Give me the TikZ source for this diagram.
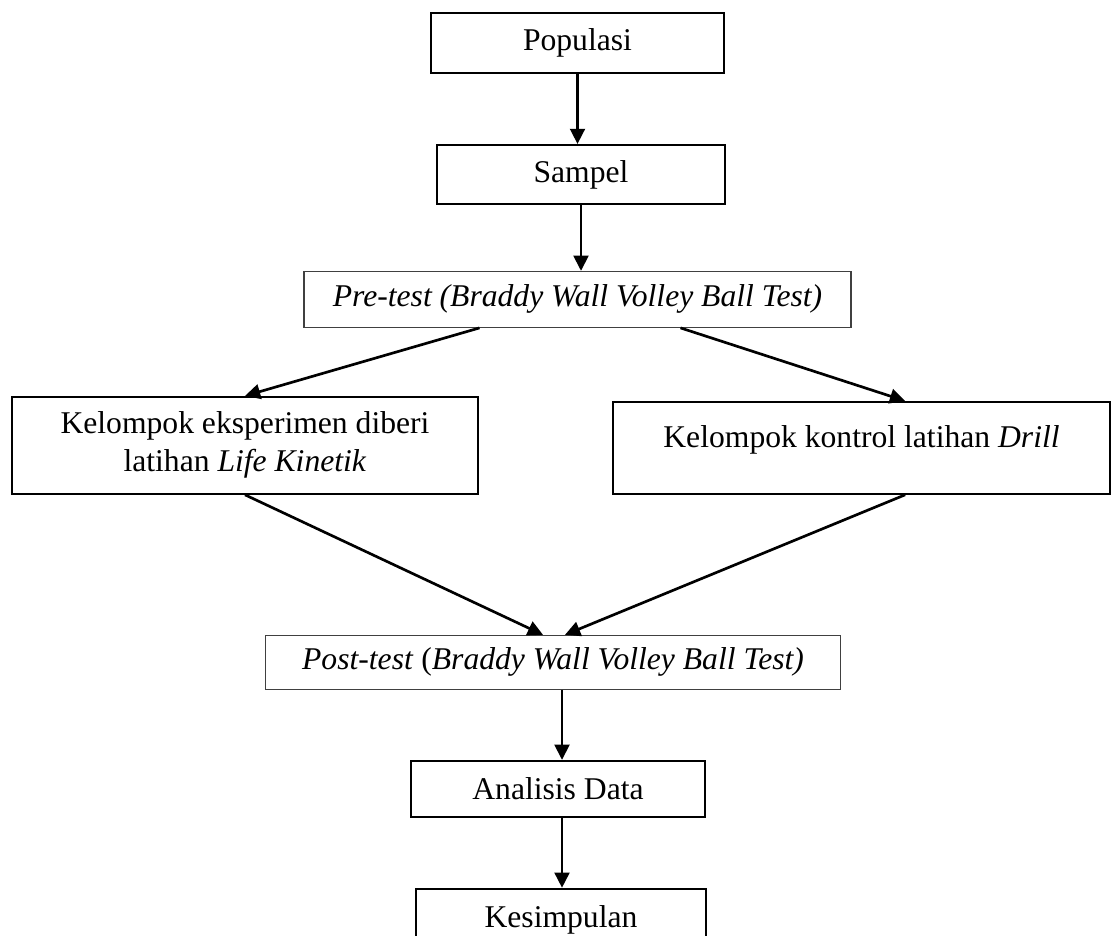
\documentclass[tikz,border=0pt]{standalone}
\usepackage{fontspec}
\setmainfont{Liberation Serif}
\usepackage{tikz}
\usetikzlibrary{arrows.meta,positioning,calc}

\begin{document}
\begin{tikzpicture}[every node/.style={font=\fontsize{22.5pt}{27pt}\selectfont,align=center},box/.style={draw,line width=1.35pt,minimum height=1.45cm,inner sep=0pt},testbox/.style={draw=black!75,line width=0.75pt,minimum height=1.4cm,inner sep=0pt},arr/.style={-{Triangle[length=0.38cm,width=0.37cm]},line width=1.9pt}]
\useasboundingbox (0,0) rectangle (27.925,-23.375);
\node[box,minimum width=7.325cm,minimum height=1.5cm] (pop) at (14.4375,-1.075) {Populasi};
\node[box,minimum width=7.2cm,minimum height=1.475cm,below=1.75cm of pop,xshift=0.0875cm] (samp) {Sampel};
\node[testbox,minimum width=13.675cm,below=1.65cm of samp,xshift=-0.0875cm] (pre) {\textit{Pre-test (Braddy Wall Volley Ball Test)}};
\node[box,minimum width=11.65cm,minimum height=2.425cm,below=1.7cm of pre,xshift=-8.3125cm] (eks) {Kelompok eksperimen diberi\\latihan \textit{Life Kinetik}};
\node[box,minimum width=12.425cm,minimum height=2.3cm,text depth=0.55cm,below=1.825cm of pre,xshift=7.1cm] (kon) {Kelompok kontrol latihan \textit{Drill}};
\node[testbox,minimum width=14.375cm,minimum height=1.35cm,below=3.5cm of eks,xshift=7.7cm] (post) {\textit{Post-test} (\textit{Braddy Wall Volley Ball Test)}};
\node[box,minimum width=7.35cm,minimum height=1.4cm,below=1.75cm of post,xshift=0.125cm] (ana) {Analisis Data};
\node[box,minimum width=7.25cm,minimum height=1.55cm,below=1.75cm of ana,xshift=0.075cm] (kes) {Kesimpulan};
\coordinate (pc) at ([xshift=0.225cm]post.south);
\draw[arr] (pop.south)--(pop.south|-samp.north);
\draw[arr] (samp.south)--(samp.south|-pre.north);
\draw[arr] ([xshift=-2.45cm]pre.south)--(eks.north);
\draw[arr] ([xshift=2.575cm]pre.south)--([xshift=1.09cm]kon.north);
\draw[arr] (eks.south)--([xshift=-0.25cm]post.north);
\draw[arr] ([xshift=1.09cm]kon.south)--([xshift=0.3cm]post.north);
\draw[arr] (pc)--(pc|-ana.north);
\draw[arr] (pc|-ana.south)--(pc|-kes.north);
\end{tikzpicture}
\end{document}
